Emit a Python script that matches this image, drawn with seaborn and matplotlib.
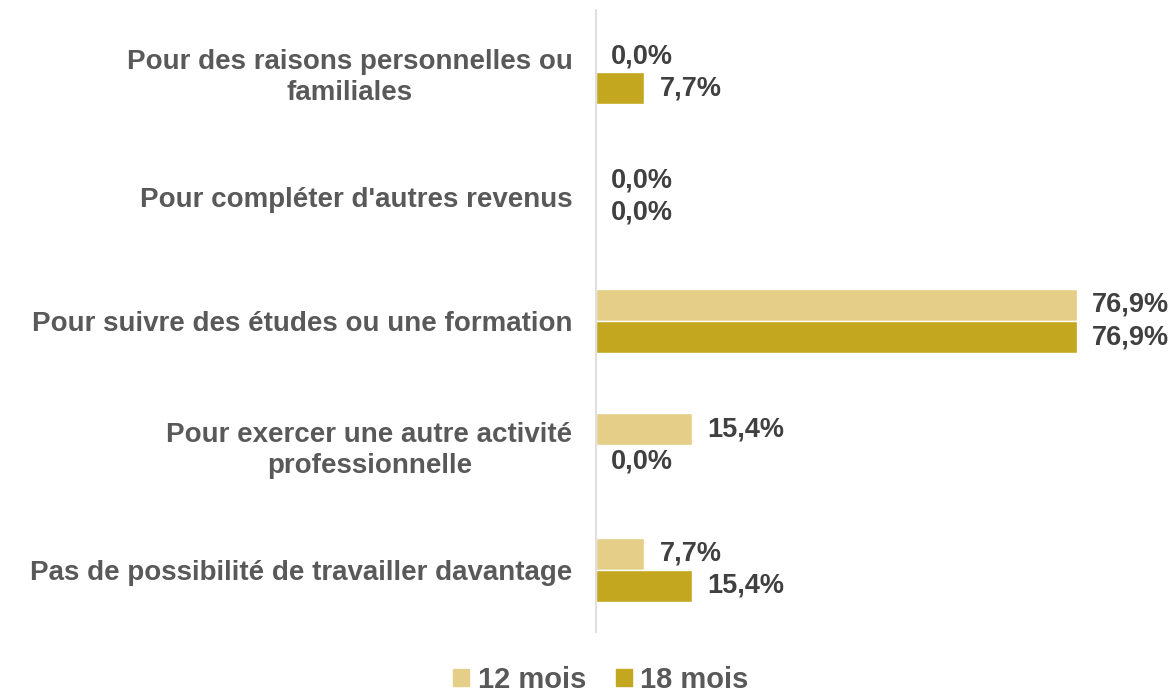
import pandas as pd
import seaborn as sns
import matplotlib.pyplot as plt

categories = [
    "Pour des raisons personnelles ou\nfamiliales",
    "Pour compléter d'autres revenus",
    "Pour suivre des études ou une formation",
    "Pour exercer une autre activité\nprofessionnelle",
    "Pas de possibilité de travailler davantage",
]
series = ["12 mois", "18 mois"]
values_12 = [0.0, 0.0, 76.9, 15.4, 7.7]
values_18 = [7.7, 0.0, 76.9, 0.0, 15.4]
colors = ["#E4CE88", "#C3A71F"]

df = pd.DataFrame({
    "cat": categories * 2,
    "serie": [series[0]] * 5 + [series[1]] * 5,
    "val": values_12 + values_18,
})

sns.set_style("white")
plt.rcParams["font.family"] = ["Liberation Sans", "DejaVu Sans"]

fig = plt.figure(figsize=(11.76, 6.93), dpi=100)
ax = fig.add_axes([596 / 1176, 1 - 632 / 693, 563 / 1176, 622 / 693])

sns.barplot(data=df, y="cat", x="val", hue="serie", palette=colors,
            width=0.516, orient="h", ax=ax, saturation=1, legend=False)

for cont in ax.containers:
    labels = [f"{v:.1f}%".replace(".", ",") for v in cont.datavalues]
    ax.bar_label(cont, labels=labels, padding=11, fontsize=19.5,
                 fontweight="bold", color="#404040")

ax.set_xlim(0, 90)
ax.set_xlabel("")
ax.set_ylabel("")
ax.set_xticks([])
ax.tick_params(axis="y", length=0, pad=17)
for lab in ax.get_yticklabels():
    lab.set_fontsize(20)
    lab.set_fontweight("bold")
    lab.set_color("#595959")
    lab.set_multialignment("center")
    lab.set_linespacing(1.25)

for s in ["top", "right", "bottom"]:
    ax.spines[s].set_visible(False)
ax.spines["left"].set_color("#D9D9D9")
ax.spines["left"].set_linewidth(1.2)

handles = [plt.Rectangle((0, 0), 1, 1, color=c) for c in colors]
fig.legend(handles, series, loc="center", bbox_to_anchor=(601 / 1176, 1 - 680 / 693),
           ncol=2, frameon=False, handlelength=0.55, handleheight=0.55,
           handletextpad=0.3, columnspacing=1.0,
           prop={"weight": "bold", "size": 21})
for t in fig.legends[0].get_texts():
    t.set_color("#595959")

fig.savefig("out.png", dpi=100)
